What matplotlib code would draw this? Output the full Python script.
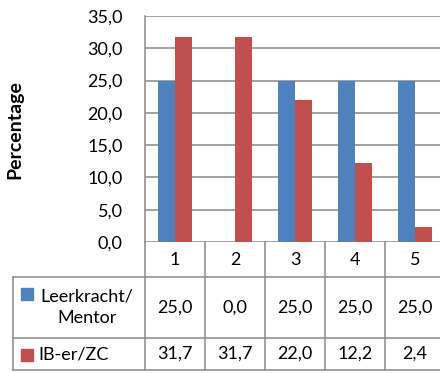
import matplotlib
matplotlib.use('Agg')
import matplotlib.pyplot as plt
import matplotlib.transforms as mtransforms
from matplotlib.patches import Rectangle
import numpy as np

# data
categories = ['1', '2', '3', '4', '5']
series_names = ['Leerkracht/\nMentor', 'IB-er/ZC']
leerkracht = [25.0, 0.0, 25.0, 25.0, 25.0]
ib_er = [31.7, 31.7, 22.0, 12.2, 2.4]
colors = ['#4F81BD', '#C0504D']
yticks = [0, 5, 10, 15, 20, 25, 30, 35]

plt.rcParams['font.family'] = ['Lato', 'DejaVu Sans']
W, H = 440, 373
grey = '#898989'
fs = 13

fig = plt.figure(figsize=(W / 100, H / 100), dpi=100)

# axes placed in pixels (right side runs past the figure, like the original)
left, right, top, bottom = 145, 445, 16, 242
ax = fig.add_axes([left / W, 1 - bottom / H, (right - left) / W, (bottom - top) / H])

x = np.arange(1, len(categories) + 1)
w = 0.285
ax.bar(x - w / 2, leerkracht, w, color=colors[0], zorder=3)
ax.bar(x + w / 2, ib_er, w, color=colors[1], zorder=3)

ax.set_xlim(0.5, len(categories) + 0.5)
ax.set_ylim(0, 35)
ax.set_yticks(yticks)
ax.set_yticklabels([f'{v:.1f}'.replace('.', ',') for v in yticks], fontsize=fs)
ax.set_xticks([])
ax.tick_params(axis='y', length=0, pad=16)
ax.yaxis.grid(True, color='#878787', linewidth=1.1, zorder=0)
for s in ['top', 'right', 'bottom']:
    ax.spines[s].set_visible(False)
ax.spines['left'].set_color(grey)
ax.spines['left'].set_linewidth(1.1)

fig.text(15 / W, 1 - 130 / H, 'Percentage', rotation=90, fontsize=14,
         fontweight='bold', ha='center', va='center')

# data table under the plot: x in data units, y in figure fraction
tr = mtransforms.blended_transform_factory(ax.transData, fig.transFigure)
def fy(py):
    return 1 - py / H

x_left = ax.transData.inverted().transform((13, 0))[0]
x_axis = 0.5
x_end = len(categories) + 0.6
row_lines = [277, 338, 370]
lw = 1.1
for py in row_lines:
    fig.add_artist(plt.Line2D([x_left, x_end], [fy(py), fy(py)], transform=tr,
                              color=grey, lw=lw))
fig.add_artist(plt.Line2D([x_left, x_left], [fy(277), fy(370)], transform=tr, color=grey, lw=lw))
fig.add_artist(plt.Line2D([x_axis, x_axis], [fy(242), fy(370)], transform=tr, color=grey, lw=lw))
for b in np.arange(1.5, len(categories) + 0.5):
    fig.add_artist(plt.Line2D([b, b], [fy(242), fy(370)], transform=tr, color=grey, lw=lw))

for xi, c in zip(x, categories):
    fig.text(xi, fy(260), c, transform=tr, ha='center', va='center', fontsize=fs)
row_centers = [307.5, 354]
for vals, yc in zip([leerkracht, ib_er], row_centers):
    for xi, v in zip(x, vals):
        fig.text(xi, fy(yc), f'{v:.1f}'.replace('.', ','), transform=tr,
                 ha='center', va='center', fontsize=fs)

# legend keys + row labels
fig.add_artist(Rectangle((21 / W, fy(300)), 12 / W, 12 / H, transform=fig.transFigure,
                         color=colors[0]))
fig.text(87 / W, fy(307.5), series_names[0], ha='center', va='center', fontsize=fs,
         multialignment='center', linespacing=1.4)
fig.add_artist(Rectangle((21 / W, fy(361)), 12 / W, 12 / H, transform=fig.transFigure,
                         color=colors[1]))
fig.text(38 / W, fy(354), series_names[1], ha='left', va='center', fontsize=fs)

fig.savefig('out.png', dpi=100)
